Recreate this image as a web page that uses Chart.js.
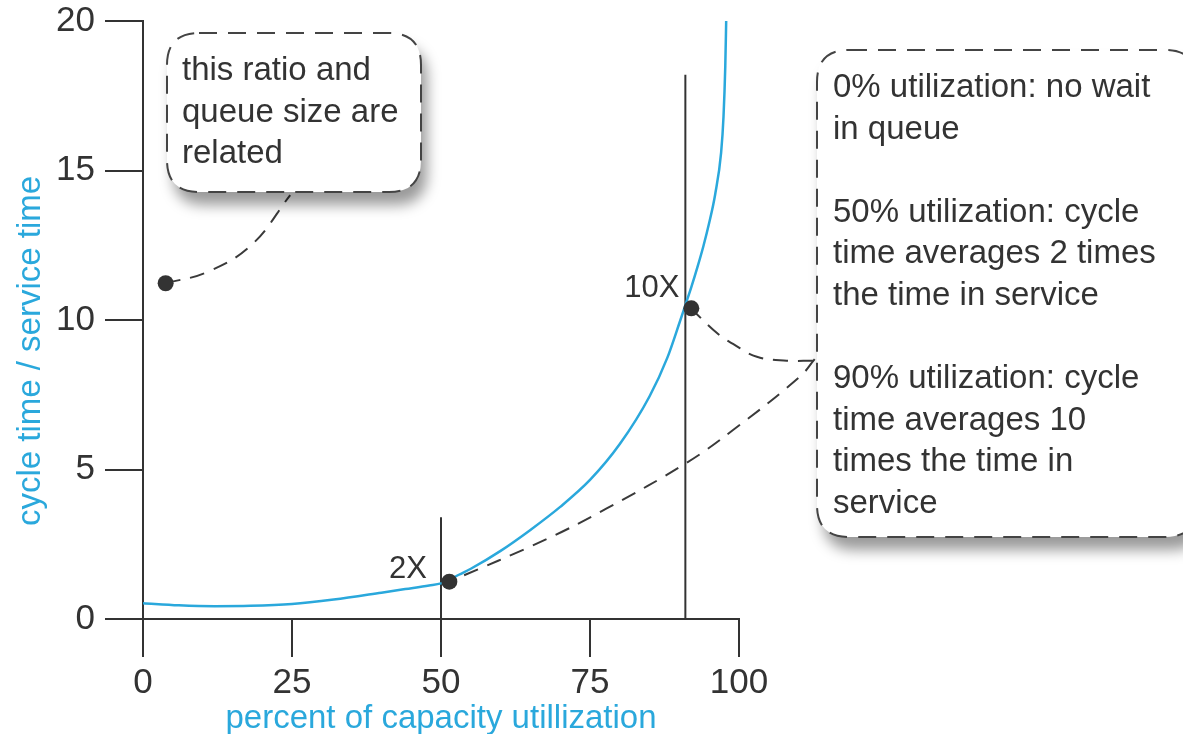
<!DOCTYPE html>
<html lang="en">

<head>
    <meta charset="UTF-8">
    <title>Cycle time vs utilization</title>
    <script src="https://cdn.jsdelivr.net/npm/chart.js"></script>
    <style>
        body { margin: 0; background: #fff; }
        #wrap { width: 1183px; height: 734px; }
    </style>
</head>

<body>
    <div id="wrap"><canvas id="myChart"></canvas></div>

    <script>
        // curva azul: utilizacion (%) vs tiempo de ciclo / tiempo de servicio
        const utilization = [0, 6, 12, 18, 25, 32, 40, 44, 48, 50, 51.5, 53, 55, 60, 65, 70, 75, 80, 85, 88, 90, 91, 92, 93, 94, 95, 96, 97, 97.4, 97.7, 97.85];
        const cycleRatio = [0.53, 0.46, 0.43, 0.44, 0.5, 0.65, 0.88, 1.0, 1.12, 1.19, 1.32, 1.48, 1.68, 2.28, 2.98, 3.75, 4.65, 5.85, 7.45, 8.75, 9.9, 10.5, 11.1, 11.75, 12.45, 13.25, 14.2, 15.6, 16.8, 18.5, 20];

        // puntos marcados (el primero sin etiqueta)
        const markerLabels = ['', '2X', '10X'];
        const markerX = [3.8, 51.4, 92.0];
        const markerY = [11.23, 1.25, 10.39];

        // lineas verticales de referencia
        const refX = [50, 91];
        const refTop = [3.4, 18.2];

        // lineas punteadas hacia las notas (2 y 3 van desde la nota hacia el punto)
        const lead1X = [3.8, 10.7, 18.2, 24.7];
        const lead1Y = [11.23, 11.6, 12.51, 14.18];
        const lead2X = [112.4, 108.0, 103.0, 99.0, 96.5, 92.06];
        const lead2Y = [8.64, 8.64, 8.77, 9.2, 9.53, 10.36];
        const lead3X = [112.7, 110.2, 99.0, 91.1, 77.8, 67.7, 51.4];
        const lead3Y = [8.69, 8.1, 6.32, 5.21, 3.7, 2.67, 1.25];

        // ejes
        const xTicks = [0, 25, 50, 75, 100];
        const yTicks = [0, 5, 10, 15, 20];

        const note1 = ['this ratio and', 'queue size are', 'related'];
        const note2 = ['0% utilization: no wait', 'in queue', '', '50% utilization: cycle', 'time averages 2 times', 'the time in service', '', '90% utilization: cycle', 'time averages 10', 'times the time in', 'service'];

        const BLUE = '#2aa8dc';
        const INK = '#333333';
        const FONT = '"Liberation Sans", Arial, Helvetica, sans-serif';

        const pts = (xs, ys) => xs.map((x, i) => ({ x: x, y: ys[i] }));

        function roundBox(ctx, x, y, w, h, r) {
            ctx.beginPath();
            ctx.moveTo(x + r, y);
            ctx.lineTo(x + w - r, y);
            ctx.quadraticCurveTo(x + w, y, x + w, y + r);
            ctx.lineTo(x + w, y + h - r);
            ctx.quadraticCurveTo(x + w, y + h, x + w - r, y + h);
            ctx.lineTo(x + r, y + h);
            ctx.quadraticCurveTo(x, y + h, x, y + h - r);
            ctx.lineTo(x, y + r);
            ctx.quadraticCurveTo(x, y, x + r, y);
            ctx.closePath();
        }

        function drawNote(ctx, box, lines, tx, ty) {
            ctx.save();
            roundBox(ctx, box[0], box[1], box[2], box[3], 32);
            ctx.shadowColor = 'rgba(0,0,0,0.4)';
            ctx.shadowBlur = 14;
            ctx.shadowOffsetX = 6;
            ctx.shadowOffsetY = 13;
            ctx.fillStyle = '#fff';
            ctx.fill();
            ctx.shadowColor = 'transparent';
            ctx.setLineDash([18, 11]);
            ctx.lineWidth = 2;
            ctx.strokeStyle = '#444';
            ctx.stroke();
            ctx.setLineDash([]);
            ctx.fillStyle = INK;
            ctx.font = '33px ' + FONT;
            ctx.textAlign = 'left';
            ctx.textBaseline = 'alphabetic';
            lines.forEach((l, i) => ctx.fillText(l, tx, ty + i * 41.6));
            ctx.restore();
        }

        const notesPlugin = {
            id: 'notes',
            afterDraw(chart) {
                const ctx = chart.ctx;
                const xs = chart.scales.x, ys = chart.scales.y;

                // etiquetas 2X / 10X
                ctx.save();
                ctx.fillStyle = INK;
                ctx.font = '31px ' + FONT;
                ctx.textAlign = 'right';
                ctx.textBaseline = 'alphabetic';
                ctx.fillText(markerLabels[1], xs.getPixelForValue(refX[0]) - 14, ys.getPixelForValue(markerY[1]) - 4);
                ctx.fillText(markerLabels[2], xs.getPixelForValue(refX[1]) - 6, ys.getPixelForValue(markerY[2]) - 11);
                ctx.restore();

                // titulo eje y
                ctx.save();
                ctx.translate(31, 351);
                ctx.rotate(-Math.PI / 2);
                ctx.fillStyle = BLUE;
                ctx.font = '33px ' + FONT;
                ctx.textAlign = 'center';
                ctx.textBaseline = 'middle';
                ctx.fillText('cycle time / service time', 0, 0);
                ctx.restore();

                drawNote(ctx, [167, 33, 254, 159], note1, 182, 80);
                drawNote(ctx, [817, 50, 380, 487], note2, 833, 97);
            }
        };

        const ctx = document.getElementById('myChart').getContext('2d');
        const myChart = new Chart(ctx, {
            type: 'scatter',
            data: {
                datasets: [
                    {
                        data: pts(markerX, markerY),
                        pointRadius: 8,
                        pointBackgroundColor: INK,
                        pointBorderWidth: 0,
                        showLine: false,
                        order: 0
                    },
                    {
                        data: pts(utilization, cycleRatio),
                        showLine: true,
                        borderColor: BLUE,
                        borderWidth: 2.5,
                        pointRadius: 0,
                        cubicInterpolationMode: 'monotone',
                        order: 1
                    },
                    {
                        data: [{ x: refX[0], y: 0 }, { x: refX[0], y: refTop[0] }],
                        showLine: true, borderColor: INK, borderWidth: 2, pointRadius: 0, order: 2
                    },
                    {
                        data: [{ x: refX[1], y: 0 }, { x: refX[1], y: refTop[1] }],
                        showLine: true, borderColor: INK, borderWidth: 2, pointRadius: 0, order: 2
                    },
                    {
                        data: pts(lead1X, lead1Y),
                        showLine: true, borderColor: '#3a3a3a', borderWidth: 2, borderDash: [15, 10],
                        pointRadius: 0, tension: 0.4, clip: false, order: 3
                    },
                    {
                        data: pts(lead2X, lead2Y),
                        showLine: true, borderColor: '#3a3a3a', borderWidth: 2, borderDash: [15, 10],
                        pointRadius: 0, tension: 0.4, clip: false, order: 3
                    },
                    {
                        data: pts(lead3X, lead3Y),
                        showLine: true, borderColor: '#3a3a3a', borderWidth: 2, borderDash: [15, 10],
                        pointRadius: 0, tension: 0.4, clip: false, order: 3
                    }
                ]
            },
            options: {
                responsive: true,
                maintainAspectRatio: false,
                animation: false,
                layout: { padding: { left: 0, right: 444, top: 0, bottom: 0 } },
                plugins: {
                    legend: { display: false },
                    tooltip: { enabled: false }
                },
                scales: {
                    x: {
                        type: 'linear',
                        min: 0,
                        max: 100,
                        afterBuildTicks: s => { s.ticks = xTicks.map(v => ({ value: v })); },
                        afterFit: s => { s.height = 115; },
                        border: { display: true, color: INK, width: 2 },
                        grid: { drawOnChartArea: false, tickLength: 38, color: INK, lineWidth: 2 },
                        ticks: { color: INK, padding: 5, font: { family: FONT, size: 35 } },
                        title: {
                            display: true,
                            text: 'percent of capacity utillization',
                            color: BLUE,
                            padding: 0,
                            font: { family: FONT, size: 33, lineHeight: 0.9 }
                        }
                    },
                    y: {
                        type: 'linear',
                        min: 0,
                        max: 20,
                        afterBuildTicks: s => { s.ticks = yTicks.map(v => ({ value: v })); },
                        afterFit: s => { s.width = 143; },
                        border: { display: true, color: INK, width: 2 },
                        grid: { drawOnChartArea: false, tickLength: 38, color: INK, lineWidth: 2 },
                        ticks: { color: INK, padding: 10, font: { family: FONT, size: 35, lineHeight: 0.63 } }
                    }
                }
            },
            plugins: [notesPlugin]
        });
    </script>
</body>

</html>
